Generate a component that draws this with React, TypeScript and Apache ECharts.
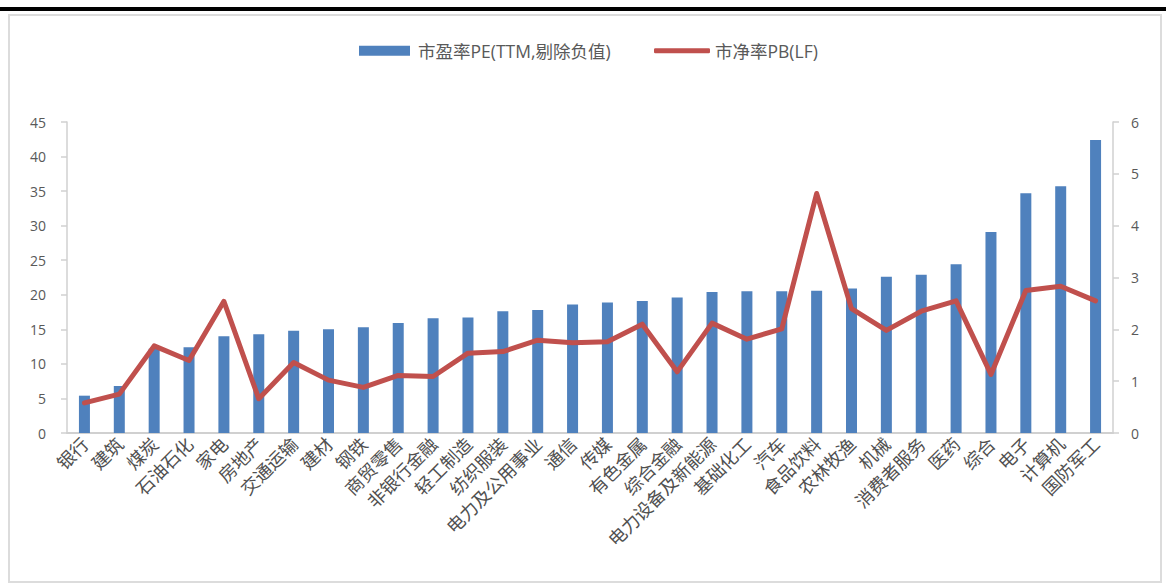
import React, { useEffect, useRef } from "react";
import * as echarts from "echarts";

// Industry names along the x axis
const industries = [
  "银行", "建筑", "煤炭", "石油石化", "家电", "房地产", "交通运输", "建材", "钢铁", "商贸零售",
  "非银行金融", "轻工制造", "纺织服装", "电力及公用事业", "通信", "传媒", "有色金属", "综合金融",
  "电力设备及新能源", "基础化工", "汽车", "食品饮料", "农林牧渔", "机械", "消费者服务", "医药",
  "综合", "电子", "计算机", "国防军工",
];

// 市盈率 PE (TTM, negatives removed) — left axis
const peValues = [
  5.4, 6.8, 12.2, 12.4, 14.0, 14.3, 14.8, 15.0, 15.3, 15.9,
  16.6, 16.7, 17.6, 17.8, 18.6, 18.9, 19.1, 19.6, 20.4, 20.5,
  20.5, 20.6, 20.9, 22.6, 22.9, 24.4, 29.1, 34.7, 35.7, 42.4,
];

// 市净率 PB (LF) — right axis
const pbValues = [
  0.58, 0.75, 1.68, 1.40, 2.54, 0.66, 1.36, 1.02, 0.88, 1.11,
  1.09, 1.54, 1.57, 1.79, 1.74, 1.76, 2.10, 1.18, 2.12, 1.81,
  2.01, 4.62, 2.40, 1.98, 2.35, 2.55, 1.13, 2.75, 2.83, 2.55,
];

const peName = "市盈率PE(TTM,剔除负值)";
const pbName = "市净率PB(LF)";

const LATIN_FONT = "'Open Sans', 'Noto Sans CJK SC', sans-serif";
const CJK_FONT = "'Noto Sans CJK SC', sans-serif";

export default function App() {
  const ref = useRef<HTMLDivElement>(null);

  useEffect(() => {
    document.body.style.margin = "0";
    if (!ref.current) return;
    const chart = echarts.init(ref.current, undefined, { renderer: "svg" });

    const axisLine = { show: true, lineStyle: { color: "#d0d0d0", width: 1.5 } };
    const axisTick = { show: true, length: 6, lineStyle: { color: "#d0d0d0", width: 1.5 } };
    const valueLabel = { color: "#595959", fontSize: 14, fontFamily: LATIN_FONT };
    const legendText = { color: "#595959", fontSize: 17.5, fontFamily: LATIN_FONT };

    chart.setOption({
      animation: false,
      backgroundColor: "#ffffff",
      graphic: [
        { type: "rect", shape: { x: 0, y: 7, width: 1166, height: 4 }, style: { fill: "#000000" } },
        {
          type: "rect",
          shape: { x: 9, y: 15, width: 1152, height: 567 },
          style: { fill: "none", stroke: "#dcdcdc", lineWidth: 2 },
        },
      ],
      legend: [
        {
          data: [{ name: peName, icon: "rect" }],
          left: 359,
          top: 42,
          padding: 0,
          itemWidth: 51,
          itemHeight: 10,
          itemStyle: { borderWidth: 0 },
          textStyle: { ...legendText, padding: [0, 0, 0, 3] },
        },
        {
          data: [{ name: pbName, icon: "roundRect" }],
          left: 654,
          top: 42,
          padding: 0,
          itemWidth: 56,
          itemHeight: 5,
          itemStyle: { borderWidth: 0 },
          textStyle: { ...legendText },
        },
      ],
      grid: { left: 67, right: 55, top: 122, bottom: 151, containLabel: false },
      xAxis: {
        type: "category",
        data: industries,
        axisLine: { show: true, lineStyle: { color: "#d0d0d0", width: 2 } },
        axisTick: { show: false },
        axisLabel: {
          interval: 0,
          rotate: 45,
          margin: 7,
          color: "#505050",
          fontSize: 18,
          fontFamily: CJK_FONT,
        },
      },
      yAxis: [
        {
          type: "value",
          min: 0,
          max: 45,
          interval: 5,
          position: "left",
          axisLine,
          axisTick,
          splitLine: { show: false },
          axisLabel: { ...valueLabel, margin: 21 },
        },
        {
          type: "value",
          min: 0,
          max: 6,
          interval: 1,
          position: "right",
          axisLine,
          axisTick,
          splitLine: { show: false },
          axisLabel: { ...valueLabel, margin: 18 },
        },
      ],
      series: [
        {
          name: peName,
          type: "bar",
          yAxisIndex: 0,
          data: peValues,
          barWidth: 11,
          itemStyle: { color: "#4f81bd" },
          z: 2,
        },
        {
          name: pbName,
          type: "line",
          yAxisIndex: 1,
          data: pbValues,
          symbol: "none",
          lineStyle: { color: "#c0504d", width: 5, join: "round", cap: "round" },
          itemStyle: { color: "#c0504d" },
          z: 3,
        },
      ],
    });

    return () => chart.dispose();
  }, []);

  return <div ref={ref} style={{ width: 1168, height: 584 }} />;
}
